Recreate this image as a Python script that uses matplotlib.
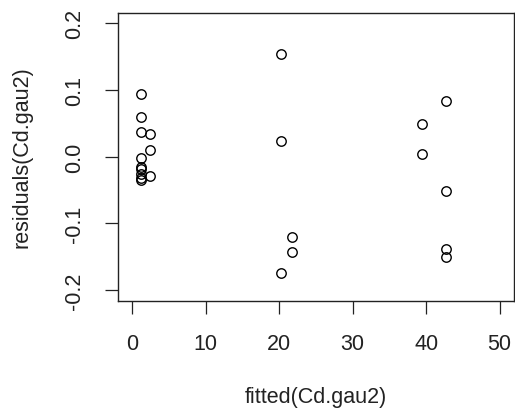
import matplotlib
matplotlib.use("Agg")
import matplotlib.pyplot as plt

# fitted values and residuals
fitted = [1.18, 1.18, 1.18, 2.35, 2.35, 1.18, 1.18, 1.18, 1.18, 2.35, 1.18, 1.18,
          20.2, 20.2, 21.8, 21.8, 20.2,
          39.4, 39.4, 42.7, 42.7, 42.7, 42.7]
resid = [0.0935, 0.0597, 0.0365, 0.0340, 0.0105, -0.0018, -0.0155, -0.0190, -0.0260, -0.0295, -0.0320, -0.0350,
         0.154, 0.0236, -0.121, -0.143, -0.174,
         0.0486, 0.0045, 0.083, -0.051, -0.138, -0.151]
xticks = [0, 10, 20, 30, 40, 50]
yticks = [-0.2, -0.1, 0.0, 0.1, 0.2]
ytick_labels = ["-0.2", "-0.1", "0.0", "0.1", "0.2"]

plt.rcParams["font.family"] = ["Liberation Sans", "DejaVu Sans"]
W, H = 515, 414
fig = plt.figure(figsize=(W / 100, H / 100), dpi=100)
ax = fig.add_axes([117.7 / W, 1 - 301.7 / H, (514.3 - 117.7) / W, (301.7 - 13.5) / H])

ax.plot(fitted, resid, "o", mfc="none", mec="black", ms=6.8, mew=1.0, ls="none")
ax.set_xlim(-2, 52)
ax.set_ylim(-0.216, 0.216)

ax.set_xticks(xticks)
ax.set_yticks(yticks)
ax.set_yticklabels(ytick_labels, rotation=90, va="center")
ax.tick_params(direction="out", length=9.5, width=0.9, labelsize=15.5, color="#222222",
               labelcolor="#222222")
ax.tick_params(axis="x", pad=14)
ax.tick_params(axis="y", pad=14)
for s in ax.spines.values():
    s.set_linewidth(1.0)
    s.set_color("#222222")

fig.text(316 / W, 1 - 398 / H, "fitted(Cd.gau2)", ha="center", va="center",
         fontsize=15.5, color="#222222")
fig.text(21.7 / W, 1 - 157.6 / H, "residuals(Cd.gau2)", ha="center", va="center",
         rotation=90, fontsize=15.5, color="#222222")

fig.savefig("out.png", dpi=100, facecolor="white")
